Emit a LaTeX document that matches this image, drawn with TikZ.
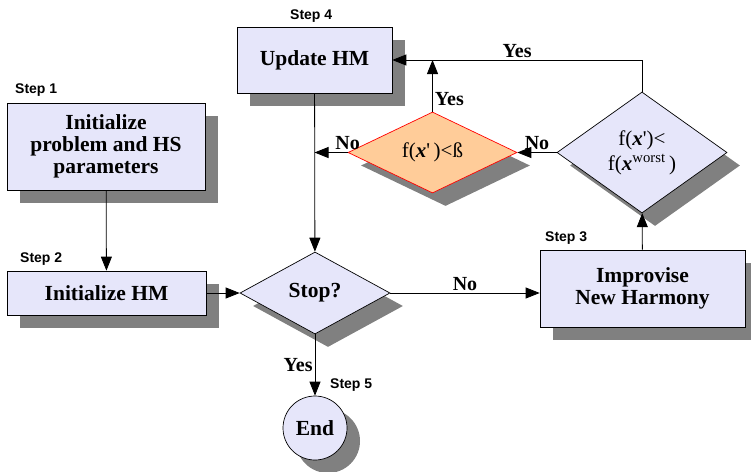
\documentclass[tikz,border=0pt]{standalone}
\usepackage{fontspec}
\setmainfont{Liberation Serif}
\setsansfont{Liberation Sans}
\usetikzlibrary{shapes.geometric,arrows.meta,shadows,positioning}
\definecolor{boxfill}{RGB}{230,230,250}
\definecolor{shadowgray}{RGB}{128,128,128}
\definecolor{testfill}{RGB}{255,204,153}
\tikzset{
  shade/.style={drop shadow={shadow xshift=13pt, shadow yshift=-13pt, fill=shadowgray, opacity=1}},
  stepbox/.style={draw, line width=0.7pt, fill=boxfill, shade, align=center, inner sep=0pt,
    font=\fontsize{21.5}{22}\selectfont\bfseries},
  testbox/.style={diamond, draw, line width=0.7pt, fill=boxfill, shade, align=center, inner sep=0pt,
    font=\fontsize{21}{25}\selectfont},
  steptag/.style={anchor=south west, inner sep=0pt, font=\fontsize{14}{14}\selectfont\sffamily\bfseries},
  conn/.style={line width=0.8pt, -{Triangle[length=14pt,width=11pt]}},
  answer/.style={font=\fontsize{20}{20}\selectfont\bfseries, inner sep=2pt}
}
\newcommand{\xbold}{\textbf{\textit{x}}}
\begin{document}
\begin{tikzpicture}[x=1pt,y=-1pt]
\useasboundingbox (0,0) rectangle (751,471);
% boxes
\node[stepbox, minimum width=198pt, minimum height=87pt] (init) at (106,146.5) {Initialize\\problem and HS\\parameters};
\node[stepbox, minimum width=199pt, minimum height=44pt] (inithm) at (106.5,293) {Initialize HM};
\node[stepbox, minimum width=205pt, minimum height=77pt] (improv) at (642.5,288.5) {Improvise\\New Harmony};
\node[stepbox, minimum width=155pt, minimum height=66pt] (update) at (314.5,60) {Update HM};
% tests
\node[testbox, minimum width=150pt, minimum height=82pt, font=\fontsize{21.5}{22}\selectfont\bfseries] (stop) at (315,293) {Stop?};
\node[testbox, minimum width=170pt, minimum height=121pt] (worse) at (642,152.5) {f(\xbold\textquotesingle)<\\f(\xbold\textsuperscript{worst}\,)};
\node[testbox, minimum width=169pt, minimum height=81pt, draw=red, fill=testfill] (better) at (432.5,152.5) {f(\xbold\textquotesingle\,)<ß};
\node[circle, draw, line width=0.7pt, fill=boxfill, shade, minimum size=64pt, inner sep=0pt,
  font=\fontsize{21.5}{22}\selectfont\bfseries] (end) at (315,428) {End};
% step tags
\node[steptag] (tag1) at (15,97) {Step 1};
\node[steptag] (tag2) at (20,266) {Step 2};
\node[steptag] (tag3) at (545,245) {Step 3};
\node[steptag] (tag4) at (290,23) {Step 4};
\node[steptag] (tag5) at (330,392) {Step 5};
% connectors
\draw[conn] (init) -- (inithm);
\draw[conn] (inithm) -- (stop);
\draw[conn] (stop.east) -- node[answer, above] {No} (stop.east -| improv.west);
\draw[conn] (improv) -- (worse);
\draw[conn] (worse.north) |- node[answer, above, pos=0.75] {Yes} (update.east);
\draw[conn] (better.north) -- node[answer, right, pos=0.25] {Yes} (better.north |- update.east);
\draw[conn] (worse.west) -- node[answer, above] {No} (better.east);
\draw[conn] (better.west) -- node[answer, above, pos=0] {No} (better.west -| update.south);
\draw[conn] (update) -- (stop);
\draw[conn] (stop) -- node[answer, left] {Yes} (end);
\end{tikzpicture}
\end{document}
